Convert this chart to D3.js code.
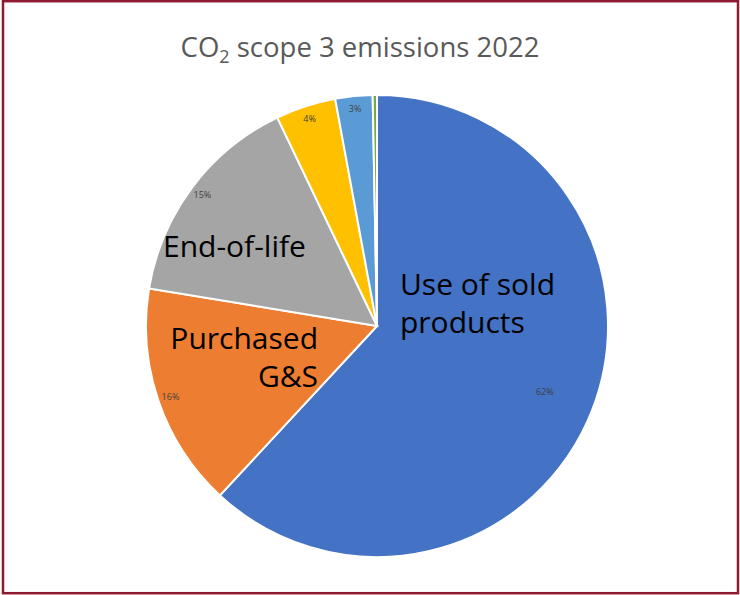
<!DOCTYPE html>
<html>
<head>
<meta charset="utf-8">
<script src="https://cdn.jsdelivr.net/npm/d3@7"></script>
<style>
  body { margin: 0; background: #fff; }
  text { font-family: "Open Sans", "Noto Sans", sans-serif; }
</style>
</head>
<body>
<div id="chart"></div>
<script>
// slice data, clockwise from 12 o'clock
const categories = ["Use of sold products", "Purchased G&S", "End-of-life", "Other A", "Other B", "Other C"];
const shares = [0.619, 0.157, 0.153, 0.042, 0.026, 0.003];
const colors = ["#4472C4", "#ED7D31", "#A5A5A5", "#FFC000", "#5B9BD5", "#70AD47"];
const titleText = "CO₂ scope 3 emissions 2022";

class PieChart {
    constructor(container) {
        this.container = container;
        this.width = 740;
        this.height = 595;
        this.cx = 377;
        this.cy = 326;
        this.radius = 231;
        this.init();
    }
    init() {
        this.svg = d3.select(this.container)
            .append("svg")
            .attr("width", this.width)
            .attr("height", this.height);
        // outer frame
        this.svg.append("rect")
            .attr("x", 3).attr("y", 1.2)
            .attr("width", 735).attr("height", 592)
            .attr("fill", "none")
            .attr("stroke", "#8E1B2F")
            .attr("stroke-width", 2.5);
    }
    render() {
        const data = categories.map((c, i) => ({name: c, value: shares[i], color: colors[i]}));
        const pie = d3.pie().sort(null).value(d => d.value);
        const arcs = pie(data);
        const arc = d3.arc().innerRadius(0).outerRadius(this.radius);

        const g = this.svg.append("g")
            .attr("transform", `translate(${this.cx},${this.cy})`);

        g.selectAll(".slice")
            .data(arcs)
            .enter()
            .append("path")
            .attr("class", "slice")
            .attr("d", arc)
            .attr("fill", d => d.data.color)
            .attr("stroke", "#fff")
            .attr("stroke-width", 2);

        // percent labels, big slice sits further in
        const fmt = d3.format(".0%");
        g.selectAll(".pct")
            .data(arcs.filter(d => d.data.value >= 0.01))
            .enter()
            .append("text")
            .attr("class", "pct")
            .attr("transform", d => {
                const r = this.radius * (d.data.value > 0.5 ? 0.78 : 0.945);
                const a = (d.startAngle + d.endAngle) / 2;
                return `translate(${Math.sin(a) * r},${-Math.cos(a) * r})`;
            })
            .attr("text-anchor", "middle")
            .attr("dy", "0.35em")
            .style("font-size", "9px")
            .style("fill", "#404040")
            .text(d => fmt(d.data.value));

        // category call-outs
        const callouts = [
            {lines: ["Use of sold", "products"], x: 23, y: -42, anchor: "start"},
            {lines: ["Purchased", "G&S"], x: -59, y: 12, anchor: "end"},
            {lines: ["End-of-life"], x: -214, y: -80, anchor: "start"}
        ];
        callouts.forEach(c => {
            const t = g.append("text")
                .attr("x", c.x).attr("y", c.y)
                .attr("text-anchor", c.anchor)
                .style("font-size", "30px")
                .style("fill", "#000");
            c.lines.forEach((l, i) => {
                t.append("tspan")
                    .attr("x", c.x)
                    .attr("dy", i === 0 ? "0.35em" : "38px")
                    .text(l);
            });
        });

        this.svg.append("text")
            .attr("x", 360)
            .attr("y", 57)
            .attr("text-anchor", "middle")
            .style("font-size", "27.5px")
            .style("fill", "#595959")
            .html('CO<tspan dy="6" font-size="18px">2</tspan><tspan dy="-6"> scope 3 emissions 2022</tspan>');
    }
}

const chart = new PieChart("#chart");
chart.render();
</script>
</body>
</html>
